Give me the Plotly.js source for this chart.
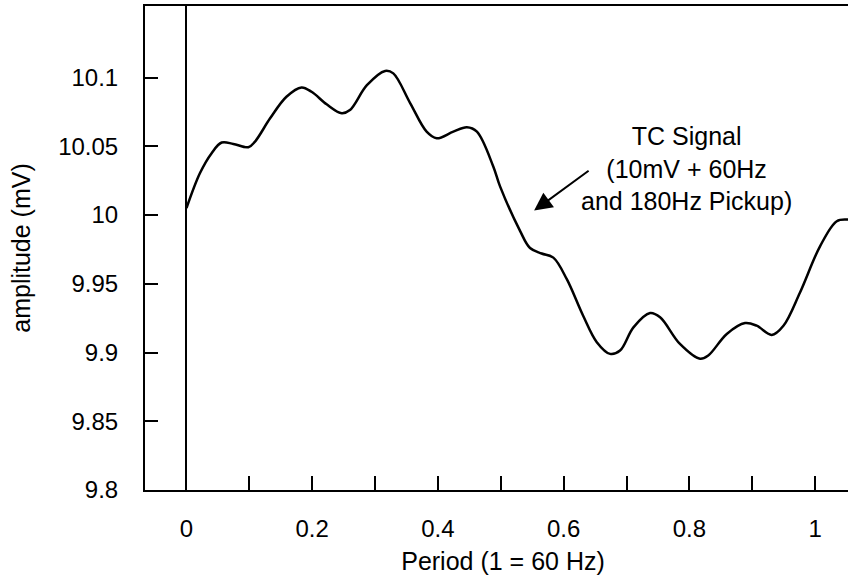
<!DOCTYPE html>
<html>
<head>
<meta charset="utf-8">
<script src="https://cdn.plot.ly/plotly-3.0.1.min.js"></script>
<style>
html, body { margin: 0; padding: 0; overflow: hidden; background: #fff; }
#chart { width: 870px; height: 583px; }
</style>
</head>
<body>
<div id="chart"></div>
<script>
// Signal samples (period fraction vs amplitude in mV)
const period = [0.000, 0.0215, 0.040, 0.056, 0.0745, 0.0984, 0.109, 0.133, 0.159, 0.183,
  0.199, 0.223, 0.247, 0.260, 0.287, 0.316, 0.329, 0.356, 0.382, 0.398,
  0.4245, 0.446, 0.462, 0.488, 0.4988, 0.5306, 0.5465, 0.565, 0.5836, 0.605,
  0.631, 0.6527, 0.6738, 0.6897, 0.711, 0.7375, 0.7534, 0.785, 0.817, 0.830,
  0.8595, 0.8886, 0.907, 0.931, 0.9496, 0.976, 1.008, 1.0345, 1.0525, 1.065];
const amplitude = [10.005, 10.0305, 10.045, 10.0527, 10.0517, 10.0493, 10.0534, 10.0703, 10.086, 10.0928,
  10.0896, 10.0805, 10.074, 10.0763, 10.0944, 10.1048, 10.103, 10.0812, 10.0606, 10.0558,
  10.0606, 10.0638, 10.0606, 10.0353, 10.0208, 9.9885, 9.976, 9.972, 9.969, 9.9533,
  9.9267, 9.9075, 9.899, 9.9014, 9.9183, 9.9287, 9.9256, 9.9062, 9.8954, 9.8978,
  9.9135, 9.9214, 9.9195, 9.9128, 9.9195, 9.9437, 9.9774, 9.9955, 9.9967, 9.9967];

const xTickVals = [0, 0.2, 0.4, 0.6, 0.8, 1];
const xTickText = ["0", "0.2", "0.4", "0.6", "0.8", "1"];
const yTickVals = [9.8, 9.85, 9.9, 9.95, 10, 10.05, 10.1];
const yTickText = ["9.8", "9.85", "9.9", "9.95", "10", "10.05", "10.1"];

const xTitle = "Period (1 = 60 Hz)";
const yTitle = "amplitude (mV)";
const noteText = "TC Signal<br>(10mV + 60Hz<br>and 180Hz Pickup)";

const FONT = "Liberation Sans, Arial, Helvetica, sans-serif";

const trace = {
  x: period,
  y: amplitude,
  type: "scatter",
  mode: "lines",
  line: { color: "#000", width: 2.5, shape: "spline", smoothing: 1 },
  hoverinfo: "skip"
};

const layout = {
  width: 870,
  height: 583,
  margin: { l: 145, r: 9, t: 6, b: 93, pad: 0 },
  paper_bgcolor: "#fff",
  plot_bgcolor: "#fff",
  showlegend: false,
  font: { family: FONT, size: 24, color: "#000" },
  xaxis: {
    range: [-0.066, 1.073],
    tickvals: xTickVals,
    ticktext: xTickText,
    ticks: "inside",
    ticklen: 14,
    tickwidth: 2,
    tickcolor: "#000",
    minor: { tickvals: [0.1, 0.3, 0.5, 0.7, 0.9], ticks: "inside", ticklen: 14, tickwidth: 2, tickcolor: "#000" },
    ticklabelstandoff: 16,
    showgrid: false,
    zeroline: true,
    zerolinecolor: "#000",
    zerolinewidth: 2,
    showline: true,
    linecolor: "#000",
    linewidth: 2,
    mirror: true,
    tickfont: { family: FONT, size: 24, color: "#000" },
    title: { text: xTitle, font: { family: FONT, size: 25, color: "#000" }, standoff: 12 }
  },
  yaxis: {
    range: [9.8, 10.152],
    tickvals: yTickVals,
    ticktext: yTickText,
    ticks: "inside",
    ticklen: 13,
    tickwidth: 2,
    tickcolor: "#000",
    ticklabelstandoff: 20,
    showgrid: false,
    zeroline: false,
    showline: true,
    linecolor: "#000",
    linewidth: 2,
    mirror: true,
    tickfont: { family: FONT, size: 24, color: "#000" },
    title: { text: yTitle, font: { family: FONT, size: 25, color: "#000" }, standoff: 20 }
  },
  annotations: [
    {
      x: 0.795, y: 10.0336, xref: "x", yref: "y",
      text: noteText,
      showarrow: false,
      align: "center",
      font: { family: FONT, size: 25, color: "#000" }
    },
    {
      x: 0.553, y: 10.0032, xref: "x", yref: "y",
      text: "",
      showarrow: true,
      ax: 56, ay: -41,
      arrowhead: 2,
      arrowsize: 1.8,
      arrowwidth: 2,
      arrowcolor: "#000"
    }
  ]
};

Plotly.newPlot("chart", [trace], layout, { displayModeBar: false, staticPlot: true });
</script>
</body>
</html>
